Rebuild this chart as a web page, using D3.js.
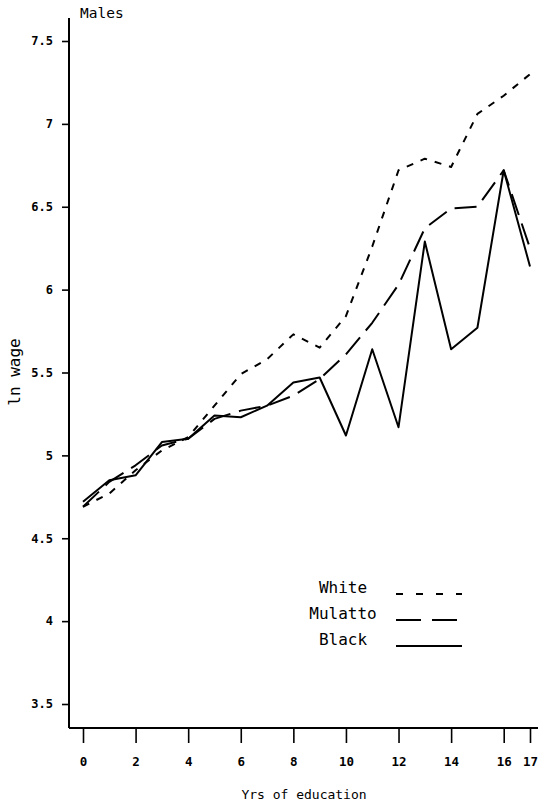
<!DOCTYPE html>
<html>
<head>
<meta charset="utf-8">
<script src="https://cdn.jsdelivr.net/npm/d3@7/dist/d3.min.js"></script>
<style>
  html, body { margin: 0; padding: 0; background: #fff; }
  svg { display: block; }
  text { font-family: "DejaVu Sans Mono", monospace; fill: #000; }
</style>
</head>
<body>
<svg id="chart" width="539" height="805"></svg>
<script>
const years = [0,1,2,3,4,5,6,7,8,9,10,11,12,13,14,15,16,17];
const white   = [4.69,4.77,4.91,5.03,5.11,5.30,5.49,5.58,5.73,5.65,5.84,6.26,6.72,6.79,6.74,7.06,7.17,7.30];
const mulatto = [4.69,4.84,4.94,5.06,5.10,5.22,5.27,5.30,5.36,5.46,5.61,5.80,6.03,6.37,6.49,6.50,6.72,6.25];
const black   = [4.72,4.85,4.88,5.08,5.10,5.24,5.23,5.30,5.44,5.47,5.12,5.64,5.17,6.29,5.64,5.77,6.72,6.14];
const seriesNames = ["White","Mulatto","Black"];
const xTicks = [0,2,4,6,8,10,12,14,16,17];
const yTicks = [3.5,4,4.5,5,5.5,6,6.5,7,7.5];
const yTickLabels = ["3.5","4","4.5","5","5.5","6","6.5","7","7.5"];

const svg = d3.select("#chart");
const x = d3.scaleLinear().domain([0,17]).range([83,530]);
const y = d3.scaleLinear().domain([3.5,7.5]).range([704,41]);
const axisX0 = 69, axisY0 = 728;

// axis lines
svg.append("line").attr("x1",axisX0).attr("x2",axisX0).attr("y1",18).attr("y2",axisY0)
  .attr("stroke","#000").attr("stroke-width",2);
svg.append("line").attr("x1",axisX0).attr("x2",538).attr("y1",axisY0).attr("y2",axisY0)
  .attr("stroke","#000").attr("stroke-width",2);

// y axis
const yAxis = d3.axisLeft(y).tickValues(yTicks).tickSize(7).tickPadding(9)
  .tickFormat((d,i)=>yTickLabels[i]);
const gy = svg.append("g").attr("transform",`translate(${axisX0},0)`).call(yAxis);
gy.select(".domain").remove();
gy.selectAll(".tick line").attr("stroke","#000").attr("stroke-width",1.6);
gy.selectAll(".tick text").style("font-family","'DejaVu Sans Mono', monospace")
  .style("font-size","12px").style("font-weight","bold").attr("fill","#000");

// x axis
const xAxis = d3.axisBottom(x).tickValues(xTicks).tickSize(14).tickPadding(14)
  .tickFormat(d=>String(d));
const gx = svg.append("g").attr("transform",`translate(0,${axisY0+1})`).call(xAxis);
gx.select(".domain").remove();
gx.selectAll(".tick line").attr("stroke","#000").attr("stroke-width",1.6);
gx.selectAll(".tick text").style("font-family","'DejaVu Sans Mono', monospace")
  .style("font-size","12.5px").style("font-weight","bold").attr("fill","#000");

// titles
svg.append("text").attr("x",80).attr("y",18).style("font-size","14.5px").text("Males");
svg.append("text").attr("x",304).attr("y",799).attr("text-anchor","middle")
  .style("font-size","13px").text("Yrs of education");
svg.append("text").attr("transform","translate(20,372) rotate(-90)").attr("text-anchor","middle")
  .style("font-size","16px").text("ln wage");

// lines
const styles = {
  White:   {data: white,   dash: "7,8"},
  Mulatto: {data: mulatto, dash: "22,9"},
  Black:   {data: black,   dash: null}
};
const line = d3.line().x((d,i)=>x(years[i])).y(d=>y(d));
seriesNames.forEach(name=>{
  const s = styles[name];
  const p = svg.append("path").datum(s.data).attr("d",line)
    .attr("fill","none").attr("stroke","#000").attr("stroke-width",2)
    .attr("stroke-linejoin","round");
  if (s.dash) p.attr("stroke-dasharray",s.dash);
});

// legend
const legY = [588, 614, 640];
seriesNames.forEach((name,i)=>{
  svg.append("text").attr("x",343).attr("y",legY[i]+5).attr("text-anchor","middle")
    .style("font-size","16px").text(name);
  const l = svg.append("line").attr("x1",396).attr("x2",462)
    .attr("y1",legY[i]+6).attr("y2",legY[i]+6)
    .attr("stroke","#000").attr("stroke-width",2);
  if (styles[name].dash) l.attr("stroke-dasharray", name==="White" ? "7,13" : "25,11");
});
</script>
</body>
</html>
